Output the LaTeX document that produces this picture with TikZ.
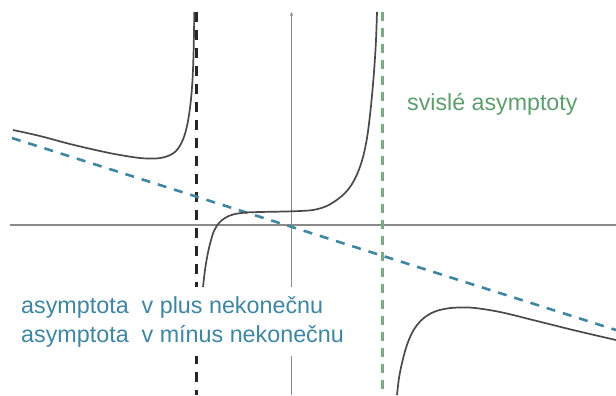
\documentclass[tikz,border=0pt]{standalone}
\usepackage{fontspec}
\setmainfont{Liberation Sans}
\usetikzlibrary{arrows.meta}
\definecolor{asblue}{HTML}{3F86A2}
\definecolor{asgreen}{HTML}{5E9E6E}
\definecolor{curvec}{HTML}{4A4A4A}
\definecolor{axisc}{HTML}{8A8A8A}
\tikzset{
  axisline/.style={draw=axisc, line width=1.3bp},
  fcurve/.style={draw=curvec, line width=1.7bp, line join=round},
  obliq/.style={draw=asblue, line width=2.6bp, dash pattern=on 9bp off 8bp},
  vblack/.style={draw=black!85, line width=2.6bp, dash pattern=on 10bp off 8bp},
  vgreen/.style={draw=asgreen!85!white, line width=2.4bp, dash pattern=on 9bp off 7bp},
  bluetext/.style={text=asblue, font=\fontsize{23.4}{29}\selectfont, inner sep=0pt},
  greentext/.style={text=asgreen, font=\fontsize{23.3}{28}\selectfont, inner sep=0pt},
}
\begin{document}
\begin{tikzpicture}[x=1bp,y=-1bp]
\useasboundingbox (0,0) rectangle (616,395);
% axes
\coordinate (xl) at (10,225);
\coordinate (xr) at (616,225);
\coordinate (yb) at (291.5,395);
\coordinate (yt) at (291.5,12);
\draw[axisline] (xl) -- (xr);
\draw[axisline, -{Stealth[length=4bp,width=3.5bp]}] (yb) -- (yt);
% vertical asymptotes
\coordinate (bt) at (196.5,12);
\coordinate (bb) at (196.5,395);
\coordinate (gt) at (382.5,12);
\coordinate (gb) at (382.5,395);
\draw[vblack] (bt) -- (bb);
\draw[vgreen] (gt) -- (gb);
% oblique asymptote
\coordinate (ol) at (12,138);
\coordinate (or) at (616,330);
\draw[obliq] (ol) -- (or);
% function branches
\draw[fcurve] plot[smooth, tension=0.6] coordinates {(13,130) (40,136) (70,144) (100,151) (120,155) (140,158) (155,158.5) (165,157) (173,153.5) (178.5,148) (183,139.5) (186.3,129) (189,115) (191,99) (192.5,80) (193.5,55) (194,32) (194.3,12)};
\draw[fcurve] plot[smooth, tension=0.6] coordinates {(203,287) (205,270) (207.5,255) (210.5,242) (214,231) (219,223) (225,218) (233,214.5) (245,212.6) (260,212) (280,211.6) (300,211) (314,209.8) (326,206.3) (336,200.5) (345,193) (352,184) (358,172) (363,157) (367,138) (370,115) (372.5,90) (374.5,65) (376,40) (377,12)};
\draw[fcurve] plot[smooth, tension=0.6] coordinates {(397,395) (399,378) (402,363) (406,348) (411,335) (417,325) (425,317) (435,311.5) (447,308.5) (460,307.5) (475,308) (500,312) (533,320) (573,330) (616,340)};
% labels
\node[bluetext, fill=white, align=left, anchor=base west, inner xsep=2bp, inner ysep=9bp] (lbl) at (19,342) {asymptota\ \ v plus nekonečnu\\asymptota\ \ v mínus nekonečnu};
\node[greentext, anchor=base west] (glbl) at (407,110) {svislé asymptoty};
\end{tikzpicture}
\end{document}
